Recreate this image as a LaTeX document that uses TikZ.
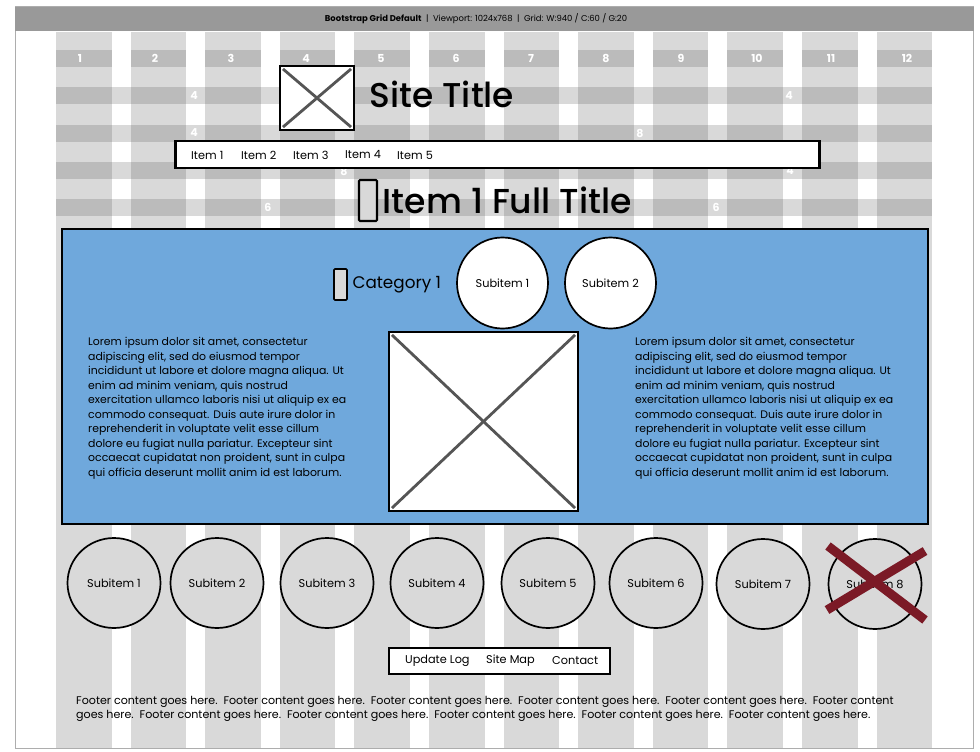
\documentclass[tikz,border=0pt]{standalone}
\usepackage{fontspec}
\setmainfont{Poppins}
\newfontfamily\titlefont[UprightFont=* Medium]{Poppins}
\usetikzlibrary{positioning,calc,shapes.geometric}
\definecolor{gridcol}{HTML}{D9D9D9}
\definecolor{bandcol}{HTML}{BBBBBB}
\definecolor{headcol}{HTML}{999999}
\definecolor{panelcol}{HTML}{6FA8DC}
\definecolor{crosscol}{HTML}{7B1A26}
\definecolor{markcol}{HTML}{555555}
\newcommand{\fsize}[1]{\fontsize{#1}{#1}\selectfont}
\tikzset{
    wire_box/.style={
        draw=black,
        line width=2.1pt,
        fill=white,
        rectangle,
        inner sep=0pt
    },
    icon/.style={
        wire_box,
        rounded corners=1pt,
        fill=gridcol
    },
    disc/.style={
        draw=black,
        line width=1.7pt,
        ellipse,
        minimum width=93pt,
        minimum height=90pt,
        inner sep=0pt,
        font=\fsize{11.3}
    },
    num/.style={
        text=white,
        font=\fsize{11}\bfseries,
        inner sep=0pt
    },
    label/.style={
        font=\fsize{11.3},
        inner sep=0pt,
        anchor=west
    },
    lorem/.style={
        font=\fontsize{10.9}{14.55}\selectfont,
        inner sep=0pt,
        anchor=north west,
        align=left
    },
    title/.style={
        inner sep=0pt,
        anchor=west
    },
    mark_line/.style={
        draw=markcol,
        line width=2.8pt
    },
}
\newcommand{\loremtext}{Lorem ipsum dolor sit amet, consectetur\\
adipiscing elit, sed do eiusmod tempor\\
incididunt ut labore et dolore magna aliqua. Ut\\
enim ad minim veniam, quis nostrud\\
exercitation ullamco laboris nisi ut aliquip ex ea\\
commodo consequat. Duis aute irure dolor in\\
reprehenderit in voluptate velit esse cillum\\
dolore eu fugiat nulla pariatur. Excepteur sint\\
occaecat cupidatat non proident, sunt in culpa\\
qui officia deserunt mollit anim id est laborum.}
\begin{document}
\begin{tikzpicture}[x=1pt, y=-1pt, node distance = 5pt and 16pt, align=center]
    \useasboundingbox (0,0) rectangle (980,752);

    % frame and header
    \fill[white] (0,0) rectangle (980,752);
    \draw[headcol!80!white, line width=1pt] (15.5,7) rectangle (973,748);
    \fill[headcol] (15,7) rectangle (973.5,31.5);
    \node[inner sep=0pt, font=\fsize{8.45}] (header) at (476,19) {\textbf{Bootstrap Grid Default}\ \ |\ \ Viewport: 1024x768\ \ |\ \ Grid: W:940 / C:60 / G:20};

    % grid
    \foreach \col in {0,...,11}
        \fill[gridcol] ({56+74.6*\col},32) rectangle ++(55.6,716);
    \foreach \row in {87,125,162,199}
        \fill[gridcol] (56,\row) rectangle (932,\row+17);
    \foreach \col in {0,...,11}{
        \fill[bandcol] ({56+74.6*\col},50) rectangle ++(55.6,17);
        \foreach \row in {87,125,162,199}
            \fill[bandcol] ({56+74.6*\col},\row) rectangle ++(55.6,17);
    }
    \foreach \col [count=\n] in {80,155,231,306,381,456,531,606,681,757,831,907}
        \node[num] (n\n) at (\col,58.5) {\n};
    \node[num] (row4a) at (194,96) {4};
    \node[num] (row4b) at (789,96) {4};
    \node[num] (row4c) at (194,133) {4};
    \node[num] (row8a) at (640,133) {8};
    \node[num] (row8b) at (344,171) {8};
    \node[num] (row4d) at (790,171) {4};
    \node[num] (row6a) at (268,207) {6};
    \node[num] (row6b) at (716,207) {6};

    % top blocks
    \node[wire_box, minimum width=74pt, minimum height=64pt] (logo) at (317,98) {};
    \draw[mark_line] ($(logo.north west)+(4,4)$) -- ($(logo.south east)+(-4,-4)$);
    \draw[mark_line] ($(logo.south west)+(4,-4)$) -- ($(logo.north east)+(-4,4)$);
    \node[title, font=\titlefont\fsize{34.4}, right=14.5pt of logo, yshift=3.5pt] (sitetitle) {Site Title};

    \node[wire_box, minimum width=644pt, minimum height=27pt] (nav) at (497.5,154.5) {};
    \foreach \xpos/\name [count=\n] in {191/Item 1,241/Item 2,293/Item 3,345/Item 4,397/Item 5}
        \node[label] (nav\n) at (\xpos,155) {\name};

    \node[icon, minimum width=18pt, minimum height=41pt] (titleicon) at (368,200.5) {};
    \node[title, font=\titlefont\fsize{34.6}, right=4.5pt of titleicon] (fulltitle) {Item 1 Full Title};

    % panel
    \node[wire_box, fill=panelcol, minimum width=866pt, minimum height=295pt] (panel) at (495,376.5) {};
    \node[icon, line width=1.7pt, minimum width=13pt, minimum height=31pt] (caticon) at (340.5,284.5) {};
    \node[title, font=\fsize{16.8}, right=4.5pt of caticon, yshift=-0.5pt] (category) {Category 1};
    \node[disc, fill=white, minimum width=91pt, minimum height=91pt] (top1) at (502.5,283) {Subitem 1};
    \node[disc, fill=white, minimum width=91pt, minimum height=91pt] (top2) at (610.5,283) {Subitem 2};

    \node[wire_box, minimum width=189pt, minimum height=179pt] (picture) at (483.5,421.5) {};
    \draw[mark_line] ($(picture.north west)+(4,4)$) -- ($(picture.south east)+(-4,-4)$);
    \draw[mark_line] ($(picture.south west)+(4,-4)$) -- ($(picture.north east)+(-4,4)$);

    \node[lorem] (leftcol) at (88,337) {\loremtext};
    \node[lorem] (rightcol) at (635,337) {\loremtext};

    % subitems row
    \foreach \xpos/\ypos [count=\n] in {114/583,217/583,327/583,437/583,548/583,656/583,763/584,875/584}
        \node[disc, fill=gridcol] (sub\n) at (\xpos,\ypos) {Subitem \n};
    \draw[crosscol, line width=9pt] ($(sub8)+(-47,-38)$) -- ($(sub8)+(50,36)$);
    \draw[crosscol, line width=9pt] ($(sub8)+(-48,26)$) -- ($(sub8)+(50,-33)$);

    % footer
    \node[wire_box, minimum width=221pt, minimum height=26pt] (footnav) at (499.5,661) {};
    \node[label] (log) at (405,661) {Update Log};
    \node[label] (map) at (486,661) {Site Map};
    \node[label] (contact) at (552,661) {Contact};
    \node[lorem, font=\fontsize{11.1}{14.5}\selectfont] (footer) at (76,696) {Footer content goes here.\ \ Footer content goes here.\ \ Footer content goes here.\ \ Footer content goes here.\ \ Footer content goes here.\ \ Footer content\\
goes here.\ \ Footer content goes here.\ \ Footer content goes here.\ \ Footer content goes here.\ \ Footer content goes here.\ \ Footer content goes here.};
\end{tikzpicture}
\end{document}
